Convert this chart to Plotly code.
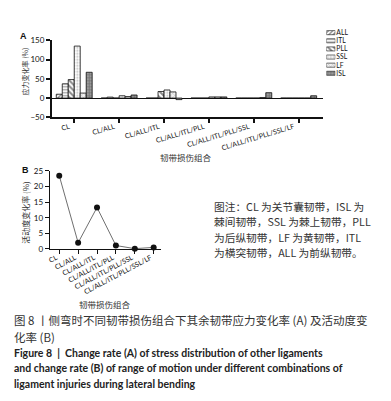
import plotly.graph_objects as go

# ---------------- data ----------------
combos = ["CL", "CL/ALL", "CL/ALL/ITL", "CL/ALL/ITL/PLL",
          "CL/ALL/ITL/PLL/SSL", "CL/ALL/ITL/PLL/SSL/LF"]
series_names = ["ALL", "ITL", "PLL", "SSL", "LF", "ISL"]
stress_ALL = [10, 0, 0, 0, 0, 0]
stress_ITL = [37, 2.5, 0, 0, 0, 0]
stress_PLL = [48, 0, 17, 0, 0, 0]
stress_SSL = [135, 6, 21, 3, 0, 0]
stress_LF = [13, 4, 16, 3, 1.5, 0]
stress_ISL = [67, 8, -4, 3, 14, 6]
rom_change = [23.5, 2.0, 13.3, 1.1, 0.1, 0.5]
y_ticks_A = [-50, 0, 50, 100, 150]
y_ticks_B = [0, 5, 10, 15, 20, 25]

stress = [stress_ALL, stress_ITL, stress_PLL, stress_SSL, stress_LF, stress_ISL]

patterns = {
    "ALL": dict(shape="/", fgcolor="#111111", bgcolor="#ffffff", size=3, solidity=0.45),
    "ITL": dict(shape="-", fgcolor="#333333", bgcolor="#ffffff", size=3, solidity=0.4),
    "PLL": dict(shape="\\", fgcolor="#111111", bgcolor="#ffffff", size=4, solidity=0.5),
    "SSL": dict(shape=".", fgcolor="#777777", bgcolor="#ffffff", size=3, solidity=0.3),
    "LF": dict(shape="x", fgcolor="#888888", bgcolor="#f2f2f2", size=3, solidity=0.3),
    "ISL": dict(shape="+", fgcolor="#444444", bgcolor="#9a9a9a", size=3, solidity=0.4),
}

W, H = 391, 401
def px_x(v):
    return v / W
def px_y(v):
    return 1 - v / H

TICKFONT = dict(family="Lato, Liberation Sans, sans-serif", size=8, color="#111111")
XTICKFONT = dict(family="Lato, Liberation Sans, sans-serif", size=7, color="#111111")
CJK = "Noto Sans CJK SC"

fig = go.Figure()

for name, vals in zip(series_names, stress):
    fig.add_trace(go.Bar(
        x=combos, y=vals, name=name, xaxis="x", yaxis="y",
        marker=dict(pattern=patterns[name], line=dict(color="#111111", width=0.8)),
        showlegend=False, cliponaxis=False,
    ))

# manual legend swatches
for name in series_names:
    fig.add_trace(go.Bar(
        x=[1], y=[name], orientation="h", xaxis="x3", yaxis="y3",
        marker=dict(pattern=patterns[name], line=dict(color="#111111", width=0.6)),
        showlegend=False, hoverinfo="skip", width=0.5,
    ))

fig.add_trace(go.Scatter(
    x=combos, y=rom_change, xaxis="x2", yaxis="y2", mode="lines+markers",
    line=dict(color="#6f6f6f", width=1),
    marker=dict(color="#111111", size=6),
    showlegend=False, cliponaxis=False,
))

axis_common = dict(showline=True, linecolor="#111111", showgrid=False,
                   ticks="outside", tickcolor="#111111")

fig.update_layout(
    width=W, height=H, margin=dict(l=0, r=0, t=0, b=0),
    paper_bgcolor="white", plot_bgcolor="white",
    barmode="group", bargap=0.2, bargroupgap=0,
    xaxis=dict(domain=[px_x(42), px_x(315)], anchor="y", type="category",
               categoryorder="array", categoryarray=combos, range=[-0.5, 5.55],
               tickangle=-17, linewidth=1.6, ticklen=4, tickwidth=1.6,
               tickfont=XTICKFONT, ticklabelstandoff=-3, ticklabelshift=-5,
               **axis_common),
    yaxis=dict(domain=[px_y(107), px_y(28)], anchor="x", range=[-50, 150],
               tickvals=y_ticks_A, linewidth=1.6, ticklen=4, tickwidth=1.6,
               zeroline=True, zerolinecolor="#111111", zerolinewidth=1.4,
               tickfont=TICKFONT, **axis_common),
    xaxis2=dict(domain=[px_x(40), px_x(152)], anchor="y2", type="category",
                categoryorder="array", categoryarray=combos, range=[-0.5, 5.4],
                tickangle=-28, linewidth=1.2, ticklen=4, tickwidth=1.2,
                tickfont=XTICKFONT, ticklabelstandoff=-3, ticklabelshift=-3,
                **axis_common),
    yaxis2=dict(domain=[px_y(242), px_y(162)], anchor="x2", range=[0, 25],
                tickvals=y_ticks_B, linewidth=1.2, ticklen=4, tickwidth=1.2,
                zeroline=False, tickfont=TICKFONT, **axis_common),
    xaxis3=dict(domain=[px_x(318), px_x(327)], anchor="y3", range=[0, 1],
                visible=False),
    yaxis3=dict(domain=[px_y(66), px_y(16)], anchor="x3", type="category",
                categoryorder="array", categoryarray=series_names[::-1],
                tickmode="array", tickvals=series_names, ticktext=series_names,
                side="right", showline=False, ticks="", showgrid=False,
                tickfont=dict(family="Lato, sans-serif", size=6.8, color="#111111"),
                ticklabelstandoff=0),
)

ann = []
def text(x, y, s, size, family=CJK, color="#222222", angle=0, xanchor="center",
         yanchor="middle", align="left"):
    ann.append(dict(x=px_x(x), y=px_y(y), xref="paper", yref="paper", text=s,
                    showarrow=False, font=dict(family=family, size=size, color=color),
                    textangle=angle, xanchor=xanchor, yanchor=yanchor, align=align,
                    borderpad=0))

text(14, 24, "<b>A</b>", 9, family="Liberation Sans, sans-serif", color="#111111")
text(16, 161, "<b>B</b>", 9, family="Liberation Sans, sans-serif", color="#111111")
text(15, 60, "应力变化率 (%)", 7, color="#333333", angle=-90)
text(16, 204, "活动度变化率 (%)", 8, color="#333333", angle=-90)
text(177, 148, "韧带损伤组合", 8.5, color="#333333")
text(95, 298, "韧带损伤组合", 8.5, color="#333333")

note_lines = ["图注：CL 为关节囊韧带，ISL 为",
              "棘间韧带，SSL 为棘上韧带，PLL",
              "为后纵韧带，LF 为黄韧带，ITL",
              "为横突韧带，ALL 为前纵韧带。"]
for i, s in enumerate(note_lines):
    text(204, 198 + 16 * i, s, 10.7, color="#333333", xanchor="left")

text(3, 315, "图 8 丨侧弯时不同韧带损伤组合下其余韧带应力变化率 (A) 及活动度变", 11.5,
     color="#333333", xanchor="left")
text(3, 332, "化率 (B)", 11.5, color="#333333", xanchor="left")
eng = ["<b>Figure 8  |  Change rate (A) of stress distribution of other ligaments</b>",
       "<b>and change rate (B) of range of motion under different combinations of</b>",
       "<b>ligament injuries during lateral bending</b>"]
for i, s in enumerate(eng):
    text(3, 349 + 15.5 * i, s, 10.5, family="Lato, sans-serif", color="#222222",
         xanchor="left")

fig.update_layout(annotations=ann)
fig.write_html("out.html")
